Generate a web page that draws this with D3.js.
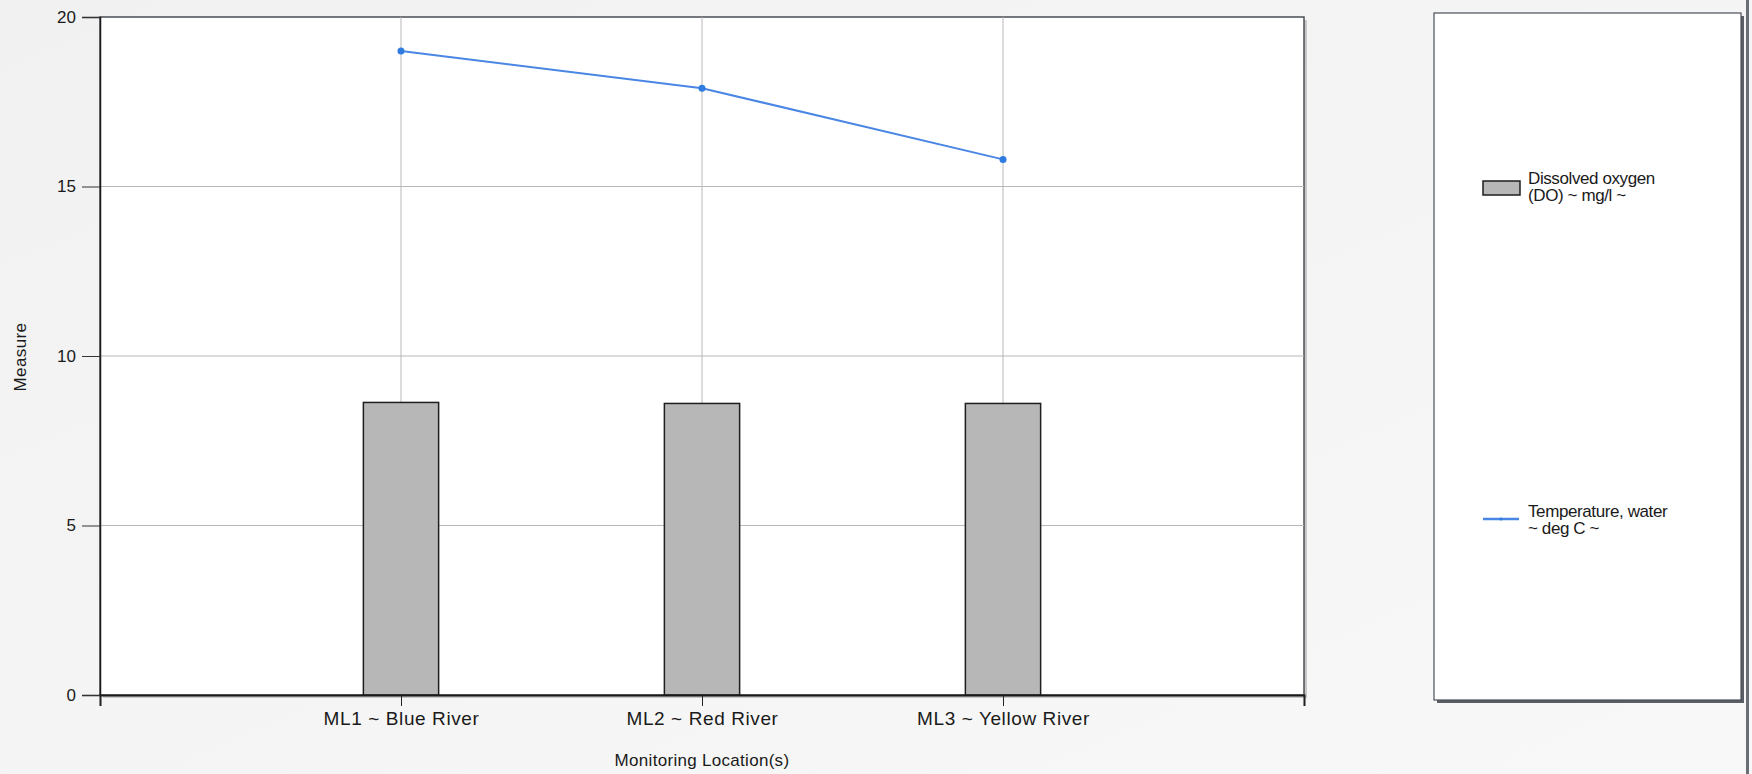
<!DOCTYPE html>
<html>
<head>
<meta charset="utf-8">
<script src="https://cdn.jsdelivr.net/npm/d3@7"></script>
<style>
  html, body { margin: 0; padding: 0; background: #f4f4f4; }
  svg text { font-family: "Liberation Sans", Arial, sans-serif; fill: #1a1a1a; }
</style>
</head>
<body>
<div id="chart"></div>
<script>
// categories along the x axis
var locations = ["ML1 ~ Blue River", "ML2 ~ Red River", "ML3 ~ Yellow River"];
// dissolved oxygen (bars), mg/l
var oxygen = [8.63, 8.6, 8.6];
// water temperature (line), deg C
var temperature = [19.0, 17.9, 15.8];
var yTicks = [0, 5, 10, 15, 20];
var seriesNames = [["Dissolved oxygen", "(DO) ~ mg/l ~"], ["Temperature, water", "~ deg C ~"]];

var width = 1752, height = 774;
var plotL = 100, plotR = 1304, plotT = 17, plotB = 695;

var svg = d3.select("#chart")
  .append("svg")
  .attr("width", width)
  .attr("height", height);

// background
var grad = svg.append("defs").append("linearGradient")
  .attr("id", "bg").attr("x1", 0).attr("x2", 1).attr("y1", 0).attr("y2", 1);
grad.append("stop").attr("offset", "0%").attr("stop-color", "#f1f1f1");
grad.append("stop").attr("offset", "100%").attr("stop-color", "#f8f8f8");
svg.append("rect").attr("width", width).attr("height", height).attr("fill", "url(#bg)");

var x = d3.scaleLinear().domain([0, locations.length + 1]).range([plotL, plotR]);
var y = d3.scaleLinear().domain([0, 20]).range([plotB, plotT]);

// plot area with a little shadow
svg.append("rect")
  .attr("x", plotL + 3).attr("y", plotT + 3)
  .attr("width", plotR - plotL).attr("height", plotB - plotT)
  .attr("fill", "#c8c8c8");
svg.append("rect")
  .attr("x", plotL).attr("y", plotT)
  .attr("width", plotR - plotL).attr("height", plotB - plotT)
  .attr("fill", "#fff")
  .attr("stroke", "#4a4f55")
  .attr("stroke-width", 1.5);

// horizontal grid
svg.selectAll(".hgrid")
  .data(yTicks.slice(1, -1))
  .enter()
  .append("line")
  .attr("class", "hgrid")
  .attr("x1", plotL).attr("x2", plotR)
  .attr("y1", function (d) { return y(d); })
  .attr("y2", function (d) { return y(d); })
  .attr("stroke", "#b8b8b8");

// vertical grid at each location
svg.selectAll(".vgrid")
  .data(locations)
  .enter()
  .append("line")
  .attr("class", "vgrid")
  .attr("x1", function (d, i) { return x(i + 1); })
  .attr("x2", function (d, i) { return x(i + 1); })
  .attr("y1", plotT).attr("y2", plotB)
  .attr("stroke", "#b8b8b8");

// bars
var barW = x(0.25) - x(0);
svg.selectAll(".bar")
  .data(oxygen)
  .enter()
  .append("rect")
  .attr("class", "bar")
  .attr("x", function (d, i) { return x(i + 1) - barW / 2; })
  .attr("y", function (d) { return y(d); })
  .attr("width", barW)
  .attr("height", function (d) { return y(0) - y(d); })
  .attr("fill", "#b7b7b7")
  .attr("stroke", "#1e1e1e")
  .attr("stroke-width", 1.5);

// temperature line
var line = d3.line()
  .x(function (d, i) { return x(i + 1); })
  .y(function (d) { return y(d); });

svg.append("path")
  .datum(temperature)
  .attr("d", line)
  .attr("fill", "none")
  .attr("stroke", "#4a86e4")
  .attr("stroke-width", 2);

svg.selectAll(".dot")
  .data(temperature)
  .enter()
  .append("circle")
  .attr("class", "dot")
  .attr("cx", function (d, i) { return x(i + 1); })
  .attr("cy", function (d) { return y(d); })
  .attr("r", 3.5)
  .attr("fill", "#2f7be0");

// y axis
var yAxis = d3.axisLeft(y).tickValues(yTicks).tickSize(18).tickPadding(6);
var gy = svg.append("g")
  .attr("transform", "translate(" + plotL + ",0)")
  .call(yAxis);
gy.select(".domain").attr("stroke", "#1a1a1a").attr("stroke-width", 1.5);
gy.selectAll(".tick line").attr("stroke", "#333");
gy.selectAll(".tick text").style("font-size", "17px");

// x axis
var xAxis = d3.axisBottom(x)
  .tickValues(d3.range(0, locations.length + 2))
  .tickSize(11)
  .tickPadding(6)
  .tickFormat(function (d) { return locations[d - 1] || ""; });
var gx = svg.append("g")
  .attr("transform", "translate(0," + plotB + ")")
  .call(xAxis);
gx.select(".domain").attr("stroke", "#1a1a1a").attr("stroke-width", 2);
gx.selectAll(".tick line").attr("stroke", "#222");
gx.selectAll(".tick text")
  .style("font-size", "19px")
  .style("letter-spacing", "0.6px");

// axis titles
svg.append("text")
  .attr("x", (plotL + plotR) / 2)
  .attr("y", 766)
  .attr("text-anchor", "middle")
  .style("font-size", "17px")
  .style("letter-spacing", "0.3px")
  .text("Monitoring Location(s)");

svg.append("text")
  .attr("transform", "translate(26,357) rotate(-90)")
  .attr("text-anchor", "middle")
  .style("font-size", "17px")
  .style("letter-spacing", "0.4px")
  .text("Measure");

// legend box
var lx = 1434, ly = 13, lw = 307, lh = 687;
svg.append("rect")
  .attr("x", lx + 3).attr("y", ly + 3)
  .attr("width", lw).attr("height", lh)
  .attr("fill", "#5a5f66");
svg.append("rect")
  .attr("x", lx).attr("y", ly)
  .attr("width", lw).attr("height", lh)
  .attr("fill", "#fff")
  .attr("stroke", "#4a4f55")
  .attr("stroke-width", 1.2);

// window edge at far right
svg.append("rect")
  .attr("x", 1746).attr("y", 0)
  .attr("width", 3).attr("height", height)
  .attr("fill", "#6a6f76");

var legend = svg.append("g");
legend.append("rect")
  .attr("x", 1483).attr("y", 181)
  .attr("width", 37).attr("height", 14)
  .attr("fill", "#b7b7b7")
  .attr("stroke", "#1e1e1e")
  .attr("stroke-width", 1.5);
legend.append("line")
  .attr("x1", 1483).attr("x2", 1519)
  .attr("y1", 519).attr("y2", 519)
  .attr("stroke", "#4a86e4")
  .attr("stroke-width", 2.5);
legend.append("circle")
  .attr("cx", 1501).attr("cy", 519).attr("r", 1.5)
  .attr("fill", "#2f7be0");

var legendY = [184, 517];
seriesNames.forEach(function (lines, k) {
  var t = legend.append("text")
    .attr("x", 1528)
    .attr("y", legendY[k])
    .style("font-size", "17px")
    .style("letter-spacing", "-0.4px");
  lines.forEach(function (s, j) {
    t.append("tspan")
      .attr("x", 1528)
      .attr("dy", j === 0 ? 0 : 17)
      .text(s);
  });
});
</script>
</body>
</html>
